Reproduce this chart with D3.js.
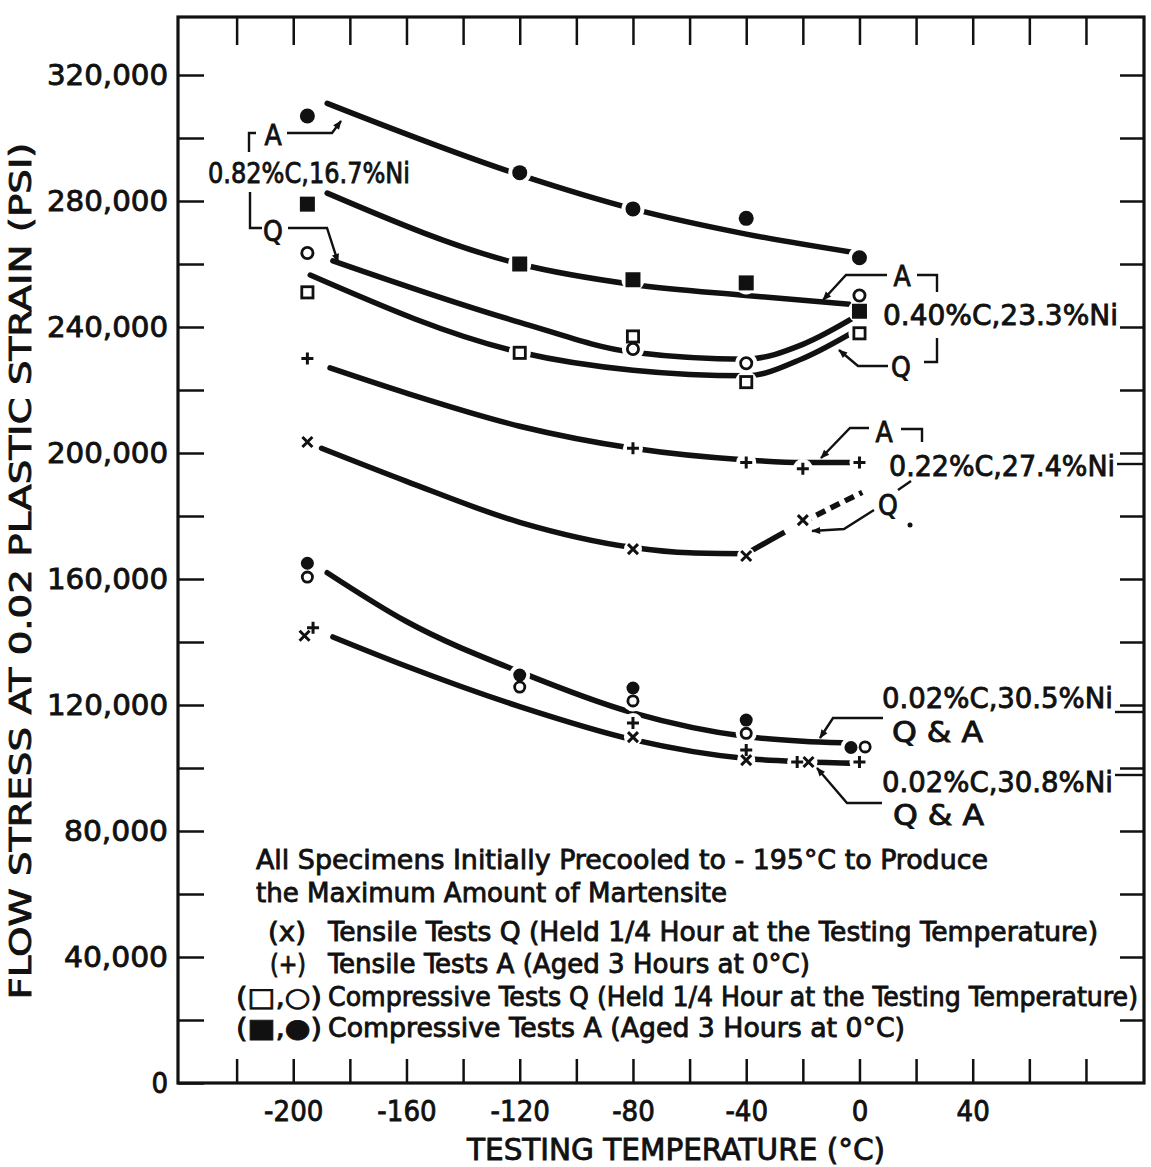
<!DOCTYPE html>
<html>
<head>
<meta charset="utf-8">
<script src="https://cdn.jsdelivr.net/npm/d3@7"></script>
<style>
  body { margin: 0; background: #fff; }
  svg text { font-family: 'DejaVu Sans Condensed', 'DejaVu Sans', sans-serif; fill: #111; stroke: #111; stroke-width: 0.8px; }
</style>
</head>
<body>
<div id="chart"></div>
<script>
// ticks / labels
const yTickValues = d3.range(0, 320001, 20000);
const yLabelValues = d3.range(0, 320001, 40000);
const xTickValues = d3.range(-220, 81, 20);
const xLabelValues = [-200, -160, -120, -80, -40, 0, 40];

// 0.82%C, 16.7%Ni  -- points [temp C, psi]
const p82FilledCircle = [[-195, 307000], [-120, 289000], [-80, 277500], [-40, 274500], [0, 262000]];
const p82FilledSquare = [[-195, 279000], [-120, 260000], [-80, 255000], [-40, 254000], [0, 245000]];
const p82OpenCircle = [[-195, 263500], [-80, 233000], [-40, 228500], [0, 250000]];
const p82OpenSquare = [[-195, 251000], [-120, 231800], [-80, 237000], [-40, 222500], [0, 238000]];
// faired curves
const c82A_circ = [[-188, 311000], [-120, 288300], [-80, 277500], [-40, 269500], [-1, 263500]];
const c82A_sq = [[-188, 282500], [-120, 260000], [-80, 253500], [-40, 250000], [-1, 247000]];
const c82Q_circ = [[-186, 261000], [-120, 241500], [-80, 232000], [-40, 229800], [-20, 234500], [-1, 243500]];
const c82Q_sq = [[-194, 256500], [-120, 232000], [-80, 226300], [-40, 224500], [-20, 230000], [-1, 239000]];

// 0.22%C, 27.4%Ni
const p22Plus = [[-195, 230000], [-80, 201500], [-40, 197000], [-20, 195000], [0, 197000]];
const p22Cross = [[-195, 203500], [-80, 169500], [-40, 167300], [-20, 178700]];
const c22A = [[-187, 227000], [-160, 219000], [-120, 208500], [-80, 201500], [-40, 197800], [-20, 197000], [-1, 197000]];
const c22Q = [[-190, 201500], [-160, 191000], [-120, 178000], [-80, 170000], [-60, 168300], [-40, 168000]];
const c22Qtail = [[-40, 168000], [-20, 178000], [1, 187500]];

// 0.02%C, 30.5%Ni (compression, Q & A)
const p305Filled = [[-195, 165000], [-120, 129500], [-80, 125400], [-40, 115200], [-3, 106500]];
const p305Open = [[-195, 160600], [-120, 125700], [-80, 121300], [-40, 111000], [2, 106700]];
const c305 = [[-188, 162000], [-160, 146500], [-120, 130500], [-80, 117500], [-40, 110000], [-20, 108500], [-6, 108000]];

// 0.02%C, 30.8%Ni (tension, Q & A)
const p308Cross = [[-196, 142000], [-80, 109800], [-40, 102500], [-18, 101900]];
const p308Plus = [[-193, 144500], [-80, 114300], [-40, 105700], [-22, 101900], [0, 101900]];
const c308 = [[-186, 141600], [-160, 132300], [-120, 119500], [-80, 109000], [-40, 103000], [-20, 102000], [0, 101500]];

const legendHeader = ["All Specimens Initially Precooled to - 195°C to Produce", "the Maximum Amount of Martensite"];
const legendKeys = ["(x)", "(+)", "(\u25A1,\u25CB)", "(\u25A0,\u25CF)"];
const legendTexts = [
  "Tensile Tests Q (Held 1/4 Hour at the Testing Temperature)",
  "Tensile Tests A (Aged 3 Hours at 0°C)",
  "Compressive Tests Q (Held 1/4 Hour at the Testing Temperature)",
  "Compressive Tests A (Aged 3 Hours at 0°C)"
];

const W = 1151, H = 1167;
const frame = {left: 178, right: 1144, top: 17, bottom: 1083};
const INK = "#111";

const svg = d3.select("#chart").append("svg")
  .attr("width", W).attr("height", H)
  .style("background", "#fff");

svg.append("defs").append("marker")
  .attr("id", "arrow")
  .attr("viewBox", "0 0 10 10")
  .attr("refX", 9).attr("refY", 5)
  .attr("markerWidth", 11).attr("markerHeight", 9)
  .attr("markerUnits", "userSpaceOnUse")
  .attr("orient", "auto")
  .append("path").attr("d", "M0,1 L10,5 L0,9 z").attr("fill", INK);

let x = d3.scaleLinear().domain([-240.7, 100.5]).range([frame.left, frame.right]);
let y = d3.scaleLinear().domain([0, 320000]).range([frame.bottom, 75]);

// ---- axes (ticks inward on all four sides)
function styleAxis(g) {
  g.select(".domain").remove();
  g.selectAll(".tick line").attr("stroke", INK).attr("stroke-width", 2.5);
}

svg.append("g")
  .attr("transform", `translate(${frame.left},0)`)
  .call(d3.axisLeft(y).tickValues(yTickValues).tickSize(-26).tickPadding(10)
    .tickFormat(d => yLabelValues.includes(d) ? d3.format(",")(d) : ""))
  .call(styleAxis)
  .selectAll("text")
  .style("font-size", "29px")
  .attr("textLength", d => d === 0 ? null : (d >= 100000 ? 121 : 104))
  .attr("lengthAdjust", "spacingAndGlyphs");

svg.append("g")
  .attr("transform", `translate(${frame.right},0)`)
  .call(d3.axisRight(y).tickValues(yTickValues.filter(d => d > 0)).tickSize(-24).tickFormat(""))
  .call(styleAxis);

svg.append("g")
  .attr("transform", `translate(0,${frame.bottom})`)
  .call(d3.axisBottom(x).tickValues(xTickValues).tickSize(-24).tickPadding(17)
    .tickFormat(d => xLabelValues.includes(d) ? String(d) : ""))
  .call(styleAxis)
  .selectAll("text")
  .style("font-size", "29px");

svg.append("g")
  .attr("transform", `translate(0,${frame.top})`)
  .call(d3.axisTop(x).tickValues(xTickValues).tickSize(-28).tickFormat(""))
  .call(styleAxis);

svg.append("rect")
  .attr("x", frame.left).attr("y", frame.top)
  .attr("width", frame.right - frame.left).attr("height", frame.bottom - frame.top)
  .attr("fill", "none").attr("stroke", INK).attr("stroke-width", 3.2);

// axis titles
svg.append("text")
  .attr("x", 676).attr("y", 1160)
  .attr("text-anchor", "middle")
  .attr("textLength", 418).attr("lengthAdjust", "spacingAndGlyphs")
  .style("font-size", "30px")
  .text("TESTING TEMPERATURE (°C)");

svg.append("text")
  .attr("transform", "translate(31,571) rotate(-90)")
  .attr("text-anchor", "middle")
  .attr("textLength", 857).attr("lengthAdjust", "spacingAndGlyphs")
  .style("font-size", "31px")
  .text("FLOW STRESS AT 0.02 PLASTIC STRAIN (PSI)");

// ---- curves
let line = d3.line()
  .x(d => x(d[0]))
  .y(d => y(d[1]))
  .curve(d3.curveMonotoneX);

let curves = svg.append("g")
  .attr("fill", "none").attr("stroke", INK)
  .attr("stroke-width", 5.5).attr("stroke-linecap", "round");

[c82A_circ, c82A_sq, c82Q_circ, c82Q_sq, c22A, c22Q, c305, c308].forEach(function(c) {
  curves.append("path").attr("d", line(c));
});
curves.append("path").attr("d", line(c22Qtail))
  .attr("stroke-linecap", "butt")
  .attr("stroke-dasharray", "44 20 10 6 10 6 10 6 10 6 10 6 10 6");

// ---- markers (white halo first, so the faired lines break at each point)
const markerSets = [
  {data: p82FilledCircle, type: "fcircle", r: 7.5},
  {data: p82FilledSquare, type: "fsquare", r: 7.5},
  {data: p82OpenCircle, type: "ocircle", r: 7},
  {data: p82OpenSquare, type: "osquare", r: 7},
  {data: p22Plus, type: "plus", r: 6},
  {data: p22Cross, type: "cross", r: 5},
  {data: p305Filled, type: "fcircle", r: 6.5},
  {data: p305Open, type: "ocircle", r: 6.5},
  {data: p308Cross, type: "cross", r: 5},
  {data: p308Plus, type: "plus", r: 6}
];

let halos = svg.append("g").attr("fill", "#fff");
markerSets.forEach(function(s) {
  halos.selectAll(null).data(s.data).enter().append("circle")
    .attr("cx", d => x(d[0])).attr("cy", d => y(d[1]))
    .attr("r", s.r + 4);
});

let marks = svg.append("g");
markerSets.forEach(function(s) {
  let sel = marks.selectAll(null).data(s.data).enter();
  if (s.type === "fcircle" || s.type === "ocircle") {
    sel.append("circle")
      .attr("cx", d => x(d[0])).attr("cy", d => y(d[1]))
      .attr("r", s.type === "ocircle" ? s.r - 1.4 : s.r)
      .attr("fill", s.type === "fcircle" ? INK : "#fff")
      .attr("stroke", INK).attr("stroke-width", s.type === "ocircle" ? 2.8 : 0);
  } else if (s.type === "fsquare" || s.type === "osquare") {
    let half = s.type === "osquare" ? s.r - 1.4 : s.r;
    sel.append("rect")
      .attr("x", d => x(d[0]) - half).attr("y", d => y(d[1]) - half)
      .attr("width", half * 2).attr("height", half * 2)
      .attr("fill", s.type === "fsquare" ? INK : "#fff")
      .attr("stroke", INK).attr("stroke-width", s.type === "osquare" ? 2.8 : 0);
  } else {
    let r = s.r;
    sel.append("path")
      .attr("d", function(d) {
        let cx = x(d[0]), cy = y(d[1]);
        return s.type === "plus"
          ? `M${cx - r},${cy}L${cx + r},${cy}M${cx},${cy - r}L${cx},${cy + r}`
          : `M${cx - r},${cy - r}L${cx + r},${cy + r}M${cx + r},${cy - r}L${cx - r},${cy + r}`;
      })
      .attr("stroke", INK).attr("stroke-width", 3).attr("fill", "none");
  }
});

// ---- leaders, brackets (pixel positions of the annotations)
const leaders = [
  {pts: [[287, 133], [332, 133], [341, 121]], arrow: true},
  {pts: [[288, 228], [327, 228], [338, 262]], arrow: true},
  {pts: [[256, 133], [249, 133], [249, 152]]},
  {pts: [[250, 192], [250, 228], [262, 228]]},
  {pts: [[887, 275], [846, 275], [823, 300]], arrow: true},
  {pts: [[917, 275], [937, 275], [937, 292]]},
  {pts: [[888, 366], [858, 366], [839, 350]], arrow: true},
  {pts: [[937, 338], [937, 362], [924, 362]]},
  {pts: [[869, 428], [850, 428], [821, 458]], arrow: true},
  {pts: [[901, 429], [922, 429], [922, 442]]},
  {pts: [[874, 510], [844, 529], [812, 531]], arrow: true},
  {pts: [[898, 490], [911, 481]]},
  {pts: [[1117, 464], [1144, 464]]},
  {pts: [[883, 718], [833, 718], [820, 738]], arrow: true},
  {pts: [[1115, 712], [1144, 712]]},
  {pts: [[882, 803], [847, 803], [817, 768]], arrow: true},
  {pts: [[1115, 775], [1144, 775]]}
];
let lg = svg.append("g").attr("fill", "none").attr("stroke", INK).attr("stroke-width", 2.4);
leaders.forEach(function(l) {
  lg.append("path")
    .attr("d", d3.line()(l.pts))
    .attr("marker-end", l.arrow ? "url(#arrow)" : null);
});
svg.append("circle").attr("cx", 910).attr("cy", 525).attr("r", 2.5).attr("fill", INK);

const labels = [
  {t: "A", x: 273, y: 145, a: "middle"},
  {t: "0.82%C,16.7%Ni", x: 208, y: 183, len: 202},
  {t: "Q", x: 273, y: 241, a: "middle"},
  {t: "A", x: 902, y: 286, a: "middle"},
  {t: "0.40%C,23.3%Ni", x: 883, y: 325, len: 235},
  {t: "Q", x: 901, y: 377, a: "middle"},
  {t: "A", x: 884, y: 442, a: "middle"},
  {t: "0.22%C,27.4%Ni", x: 889, y: 476, len: 226},
  {t: "Q", x: 888, y: 515, a: "middle"},
  {t: "0.02%C,30.5%Ni", x: 882, y: 708, len: 231},
  {t: "Q & A", x: 892, y: 742, len: 91},
  {t: "0.02%C,30.8%Ni", x: 882, y: 792, len: 231},
  {t: "Q & A", x: 893, y: 825, len: 91}
];
labels.forEach(function(l) {
  svg.append("text")
    .attr("x", l.x).attr("y", l.y)
    .attr("text-anchor", l.a || "start")
    .attr("textLength", l.len || null)
    .attr("lengthAdjust", "spacingAndGlyphs")
    .style("font-size", "28px")
    .text(l.t);
});

// ---- legend block
const headerY = [869, 902], headerLen = [732, 471];
legendHeader.forEach(function(t, i) {
  svg.append("text").attr("x", 256).attr("y", headerY[i])
    .attr("textLength", headerLen[i]).attr("lengthAdjust", "spacingAndGlyphs")
    .style("font-size", "27px").text(t);
});
const rowY = [941, 973, 1006, 1037];
const keyX = [268, 270, 236, 236], keyLen = [38, 36, 86, 86];
const textLen = [770, 482, 810, 577];
legendKeys.forEach(function(k, i) {
  svg.append("text").attr("x", keyX[i]).attr("y", rowY[i])
    .attr("textLength", keyLen[i]).attr("lengthAdjust", "spacingAndGlyphs")
    .style("font-size", "26px").text(k);
  svg.append("text").attr("x", 328).attr("y", rowY[i])
    .attr("textLength", textLen[i]).attr("lengthAdjust", "spacingAndGlyphs")
    .style("font-size", "26px").text(legendTexts[i]);
});
</script>
</body>
</html>
